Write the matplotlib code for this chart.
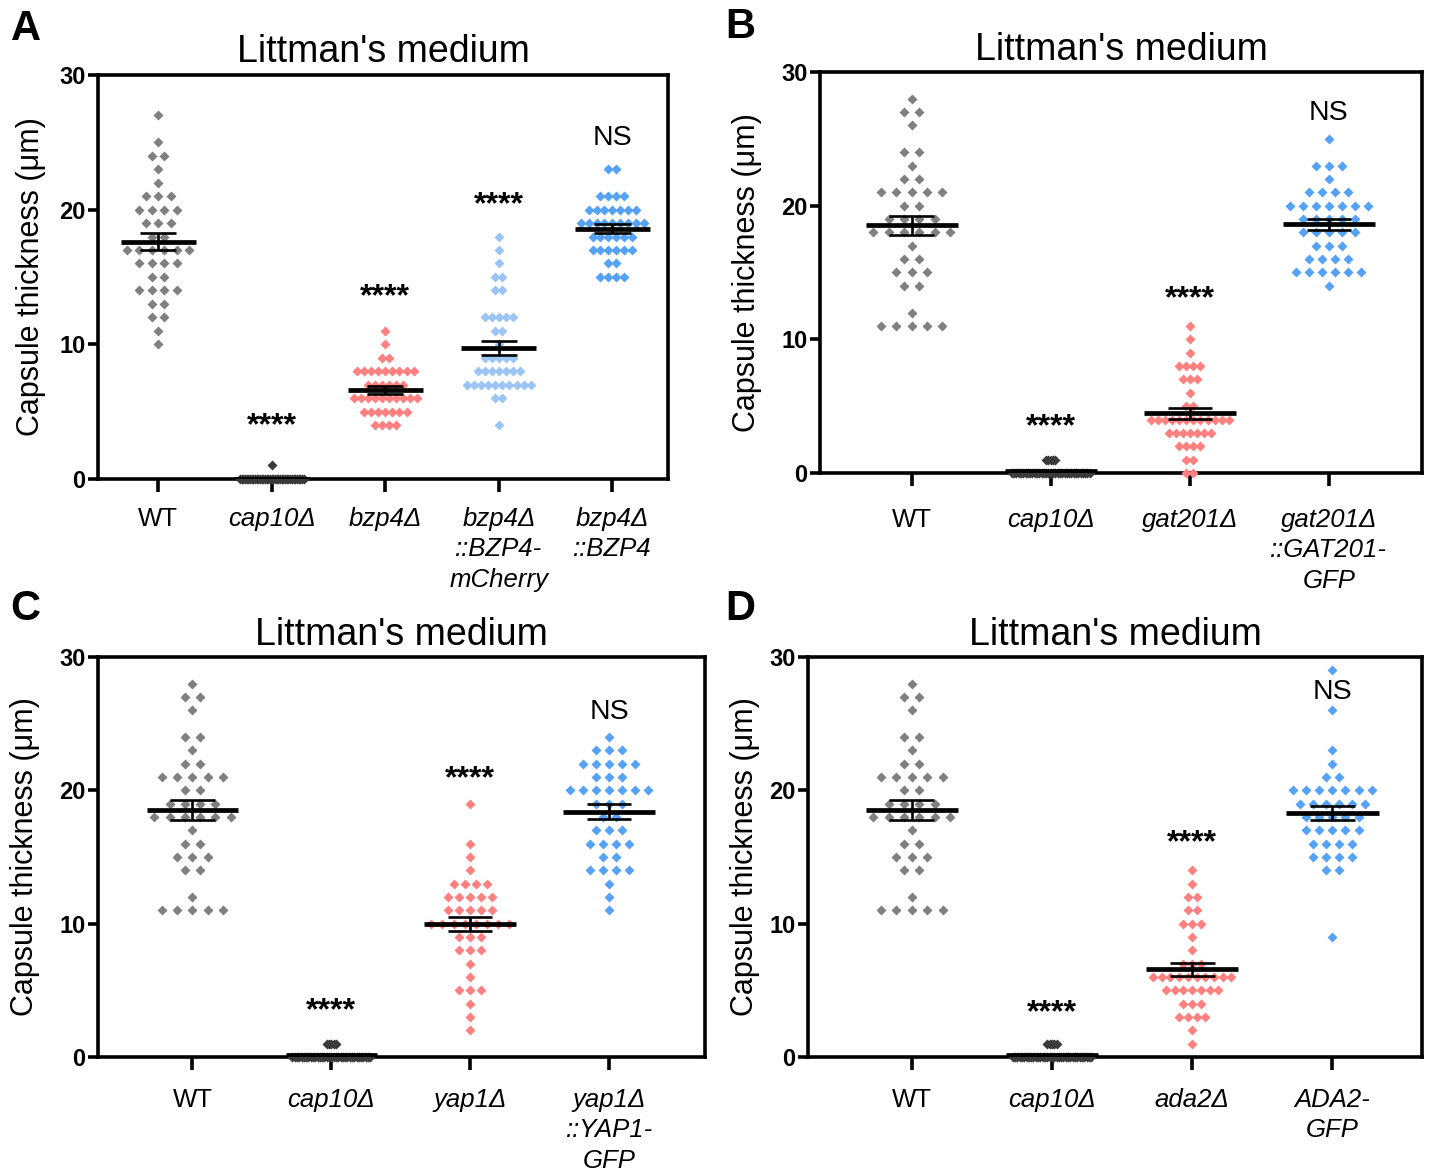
import matplotlib
matplotlib.use('Agg')
import matplotlib.pyplot as plt
import numpy as np

plt.rcParams['font.family'] = ['Liberation Sans', 'DejaVu Sans']

# capsule thickness (um): value levels and number of cells at each level
wt_a_y = [27, 25, 24, 23, 22, 21, 20, 19, 18, 17, 16, 15, 14, 13, 12, 11, 10]
wt_a_n = [1, 1, 2, 1, 1, 3, 4, 3, 2, 6, 4, 2, 4, 2, 2, 1, 1]
cap10_a_y = [1, 0]
cap10_a_n = [1, 39]
bzp4_y = [11, 10, 9, 8, 7, 6, 5, 4]
bzp4_n = [1, 1, 2, 9, 6, 10, 7, 4]
bzp4_mch_y = [18, 17, 16, 15, 14, 12, 11, 10, 9, 8, 7, 6, 4]
bzp4_mch_n = [1, 1, 1, 2, 2, 5, 2, 1, 5, 7, 10, 2, 1]
bzp4_c_y = [23, 21, 20, 19, 18, 17, 16, 15]
bzp4_c_n = [2, 4, 7, 9, 6, 6, 2, 4]

wt_y = [28, 27, 26, 24, 23, 22, 21, 20, 19, 18, 17, 16, 15, 14, 12, 11]
wt_n = [1, 2, 1, 2, 1, 2, 5, 2, 4, 6, 1, 2, 3, 2, 1, 5]
cap10_y = [1, 0]
cap10_n = [5, 35]

gat201_y = [11, 10, 9, 8, 7, 6, 5, 4, 3, 2, 1, 0]
gat201_n = [1, 1, 1, 4, 3, 1, 2, 12, 7, 4, 2, 2]
gat201_c_y = [25, 23, 22, 21, 20, 19, 18, 17, 16, 15, 14]
gat201_c_n = [1, 3, 1, 4, 7, 5, 5, 3, 4, 6, 1]

yap1_y = [19, 16, 15, 14, 13, 12, 11, 10, 9, 8, 7, 6, 5, 4, 3, 2]
yap1_n = [1, 1, 1, 1, 4, 5, 5, 8, 3, 3, 1, 1, 3, 1, 1, 1]
yap1_c_y = [24, 23, 22, 21, 20, 19, 18, 17, 16, 15, 14, 13, 12, 11]
yap1_c_n = [1, 3, 5, 3, 7, 3, 2, 3, 4, 2, 4, 1, 1, 1]

ada2_y = [14, 13, 12, 11, 10, 9, 8, 7, 6, 5, 4, 3, 2, 1]
ada2_n = [1, 1, 2, 2, 3, 1, 1, 3, 10, 7, 3, 4, 1, 1]
ada2_c_y = [29, 26, 23, 22, 21, 20, 19, 18, 17, 16, 15, 14, 9]
ada2_c_n = [1, 1, 1, 1, 2, 7, 6, 5, 5, 4, 4, 2, 1]

labels_a = ['WT', 'cap10Δ', 'bzp4Δ', 'bzp4Δ\n::BZP4-\nmCherry', 'bzp4Δ\n::BZP4']
labels_b = ['WT', 'cap10Δ', 'gat201Δ', 'gat201Δ\n::GAT201-\nGFP']
labels_c = ['WT', 'cap10Δ', 'yap1Δ', 'yap1Δ\n::YAP1-\nGFP']
labels_d = ['WT', 'cap10Δ', 'ada2Δ', 'ADA2-\nGFP']

sig_a = ['', '****', '****', '****', 'NS']
sig_a_y = [0, 3.9, 13.5, 20.3, 25.3]
sig_b = ['', '****', '****', 'NS']
sig_b_y = [0, 3.4, 13.0, 26.9]
sig_c_y = [0, 3.4, 20.8, 25.9]
sig_d_y = [0, 3.3, 16.0, 27.4]

GREY = '#808080'
DARK = '#3a3a3a'
RED = '#ff8080'
BLUE = '#55a2f7'
LBLUE = '#9cc5f5'

fig = plt.figure(figsize=(14.37, 11.71), dpi=100)


def swarm(ax, x, ys, ns, color):
    k = max(ns)
    sp = 0.11 if k < 2 else min(0.11, 0.56 / (k - 1))
    for y, n in zip(ys, ns):
        xs = x + (np.arange(n) - (n - 1) / 2) * sp
        ax.plot(xs, [y] * n, ls='none', marker='D', ms=5.5, color=color,
                mec='none', clip_on=False, zorder=3)
    vals = np.repeat(ys, ns).astype(float)
    m = vals.mean()
    se = vals.std(ddof=1) / np.sqrt(len(vals))
    ax.hlines(m, x - 0.33, x + 0.33, color='k', lw=3.4, zorder=5)
    ax.vlines(x, m - se, m + se, color='k', lw=1.9, zorder=5)
    ax.hlines([m - se, m + se], x - 0.16, x + 0.16, color='k', lw=1.9, zorder=5)


def panel(rect, groups, labels, sig, sig_y, xlim, letter, lpos, ylab_x, xpad):
    ax = fig.add_axes(rect)
    for i, (ys, ns, c) in enumerate(groups):
        swarm(ax, i, ys, ns, c)
    for i, (s, y) in enumerate(zip(sig, sig_y)):
        if s == 'NS':
            ax.text(i, y, s, ha='center', va='center', fontsize=20.5, zorder=6)
        elif s:
            ax.text(i, y, s, ha='center', va='center', fontsize=23, fontweight='bold', zorder=6)
    ax.set_xlim(*xlim)
    ax.set_ylim(0, 30)
    ax.set_yticks([0, 10, 20, 30])
    ax.set_yticklabels(['0', '10', '20', '30'], fontsize=17, fontweight='bold')
    ax.set_xticks(range(len(labels)))
    ax.set_xticklabels(labels, fontsize=18.5, linespacing=1.35)
    for t in ax.get_xticklabels():
        if t.get_text() != 'WT':
            t.set_style('italic')
    for sp_ in ax.spines.values():
        sp_.set_linewidth(2.6)
    ax.tick_params(axis='y', length=7, width=2.6, pad=2)
    ax.tick_params(axis='x', length=9, width=2.6, pad=xpad)
    ax.set_ylabel('Capsule thickness (μm)', fontsize=22)
    ax.yaxis.set_label_coords(ylab_x, 0.5)
    ax.set_title("Littman's medium", fontsize=27, pad=9)
    fig.text(lpos[0], lpos[1], letter, fontsize=30, fontweight='bold', ha='center', va='center')
    return ax


panel([0.0682, 0.5910, 0.3967, 0.3450],
      [(wt_a_y, wt_a_n, GREY), (cap10_a_y, cap10_a_n, DARK), (bzp4_y, bzp4_n, RED),
       (bzp4_mch_y, bzp4_mch_n, LBLUE), (bzp4_c_y, bzp4_c_n, BLUE)],
      labels_a, sig_a, sig_a_y, (-0.53, 4.49), 'A', (0.018, 0.975), -0.091, 11)

panel([0.5706, 0.5961, 0.4190, 0.3424],
      [(wt_y, wt_n, GREY), (cap10_y, cap10_n, DARK), (gat201_y, gat201_n, RED),
       (gat201_c_y, gat201_c_n, BLUE)],
      labels_b, sig_b, sig_b_y, (-0.66, 3.67), 'B', (0.515, 0.977), -0.096, 16)

panel([0.0682, 0.0974, 0.4224, 0.3415],
      [(wt_y, wt_n, GREY), (cap10_y, cap10_n, DARK), (yap1_y, yap1_n, RED),
       (yap1_c_y, yap1_c_n, BLUE)],
      labels_c, sig_b, sig_c_y, (-0.68, 3.69), 'C', (0.0174, 0.4800), -0.096, 13)

panel([0.5623, 0.0974, 0.4273, 0.3415],
      [(wt_y, wt_n, GREY), (cap10_y, cap10_n, DARK), (ada2_y, ada2_n, RED),
       (ada2_c_y, ada2_c_n, BLUE)],
      labels_d, sig_b, sig_d_y, (-0.74, 3.64), 'D', (0.515, 0.4800), -0.078, 13)

fig.savefig('out.png', dpi=100)
